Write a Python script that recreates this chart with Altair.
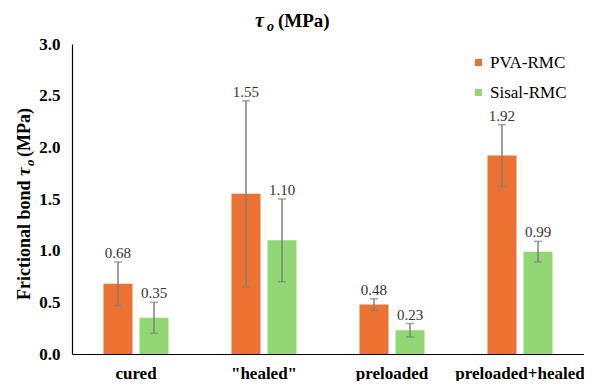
import altair as alt
import pandas as pd

categories = ["cured", "\"healed\"", "preloaded", "preloaded+healed"]
series = ["PVA-RMC", "Sisal-RMC"]
colors = ["#EC7232", "#91D874"]
pva_values = [0.68, 1.55, 0.48, 1.92]
sisal_values = [0.35, 1.10, 0.23, 0.99]
pva_errors = [0.21, 0.90, 0.055, 0.30]
sisal_errors = [0.15, 0.40, 0.065, 0.10]
y_ticks = [0.0, 0.5, 1.0, 1.5, 2.0, 2.5, 3.0]
title_parts = ["τ", "o", "(MPa)"]
ytitle_parts = ["Frictional bond", "τ", "o", "(MPa)"]

rows = []
for s, vals, errs in [(series[0], pva_values, pva_errors), (series[1], sisal_values, sisal_errors)]:
    for c, v, e in zip(categories, vals, errs):
        rows.append({"category": c, "series": s, "value": v, "lo": v - e, "hi": v + e})
df = pd.DataFrame(rows)

SERIF = "Times New Roman, Liberation Serif, DejaVu Serif, serif"
ERR = "#808080"

base = alt.Chart(df).encode(
    x=alt.X("category:N", sort=categories,
            scale=alt.Scale(paddingInner=0.492, paddingOuter=0.246),
            axis=alt.Axis(title=None, labelAngle=0, ticks=False, labelFont=SERIF,
                          labelFontSize=17, labelFontWeight="bold", labelColor="black",
                          domainColor="black", domainWidth=1.2, labelPadding=11)),
    xOffset=alt.XOffset("series:N", sort=series,
                        scale=alt.Scale(paddingInner=0.194, paddingOuter=0)),
)

bars = base.mark_bar().encode(
    y=alt.Y("value:Q", scale=alt.Scale(domain=[0, 3]),
            axis=alt.Axis(title=None, values=y_ticks, format=".1f", ticks=False, grid=False,
                          labelFont=SERIF, labelFontSize=17, labelFontWeight="bold",
                          labelColor="black", domainColor="black", domainWidth=1.2,
                          labelPadding=12)),
    color=alt.Color("series:N", scale=alt.Scale(domain=series, range=colors),
                    legend=alt.Legend(title=None, orient="none", legendX=398, legendY=10,
                                      direction="vertical", symbolType="square",
                                      symbolSize=49, symbolStrokeWidth=0,
                                      labelFont=SERIF, labelFontSize=17, labelColor="black",
                                      rowPadding=12, labelOffset=3)),
)

err = base.mark_rule(color=ERR, strokeWidth=1.5).encode(y="lo:Q", y2="hi:Q")
cap_hi = base.mark_tick(orient="horizontal", size=8, thickness=1.5, color=ERR).encode(y="hi:Q")
cap_lo = base.mark_tick(orient="horizontal", size=8, thickness=1.5, color=ERR).encode(y="lo:Q")
labels = base.mark_text(dy=-4, baseline="alphabetic", font=SERIF, fontSize=15,
                        color="#333333").encode(
    y="hi:Q", text=alt.Text("value:Q", format=".2f"))


def txt(t, x, y, size, style="normal", weight="bold", angle=0):
    return alt.Chart(pd.DataFrame({"t": [t]})).mark_text(
        align="left", baseline="alphabetic", font=SERIF, fontSize=size,
        fontStyle=style, fontWeight=weight, angle=angle, color="black"
    ).encode(x=alt.value(x), y=alt.value(y), text="t:N")


title_layers = [
    txt(title_parts[0], 183, -17, 20, style="italic"),
    txt(title_parts[1], 195, -13, 14, style="italic"),
    txt(title_parts[2], 206, -17, 19),
]
ytitle_layers = [
    txt(ytitle_parts[0], -42, 256, 18, angle=270),
    txt(ytitle_parts[1], -42, 132, 19, style="italic", angle=270),
    txt(ytitle_parts[2], -38, 122, 13, style="italic", angle=270),
    txt(ytitle_parts[3], -42, 113, 18, angle=270),
]

chart = alt.layer(bars, err, cap_hi, cap_lo, labels, *title_layers, *ytitle_layers).properties(
    width=512, height=310,
    autosize=alt.AutoSizeParams(type="none"),
    padding={"left": 64, "top": 36, "right": 0, "bottom": 27},
).configure_view(stroke=None)

chart.save("out.html", embed_options={"renderer": "svg", "actions": False})
